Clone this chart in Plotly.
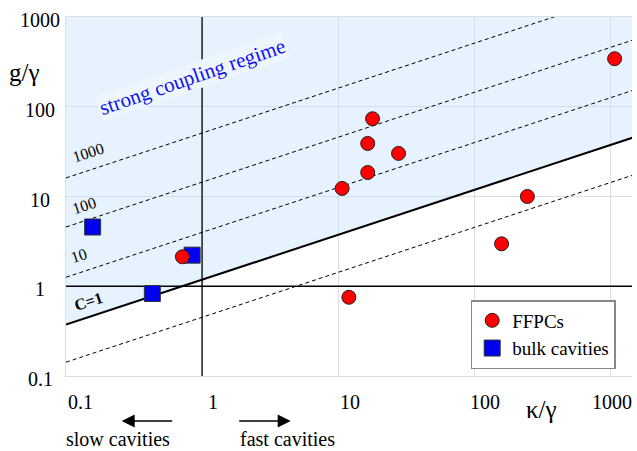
import math
import plotly.graph_objects as go

# ---------------- data ----------------
ffpc_kappa = [1077, 17.9, 16.5, 27.8, 16.5, 10.7, 246, 159, 12.0, 0.717]
ffpc_g = [343, 73.5, 39.0, 30.2, 18.5, 12.3, 10.0, 2.97, 0.754, 2.13]

bulk_kappa = [0.157, 0.845, 0.431]
bulk_g = [4.57, 2.22, 0.83]

# cooperativity reference lines: g/gamma at the left (kappa=0.1) and right (kappa=1500) ends
coop_labels = ["0.1", "1", "10", "100", "1000"]
coop_x_ends = [0.1, 1500]
coop_left = [0.1426, 0.374, 1.26, 4.57, 16.1]
coop_right = [17.5, 45.8, 154, 560, 1977]

x_ticks = [0.1, 1, 10, 100, 1000]
x_tick_text = ["0.1", "1", "10", "100", "1000"]
y_ticks = [0.1, 1, 10, 100, 1000]
y_tick_text = ["0.1", "1", "10", "100", "1000"]

# ---------------- layout helpers ----------------
W, H = 637, 451
L, R, T, B = 66, 5, 17, 75
PW, PH = W - L - R, H - T - B
FONT = "Liberation Serif"


def px(xp):
    return (xp - L) / PW


def py(yp):
    return (H - B - yp) / PH


fig = go.Figure()

# shaded strong-coupling region (above C=1 line)
fig.add_trace(go.Scatter(
    x=[coop_x_ends[0], coop_x_ends[1], coop_x_ends[1], coop_x_ends[0]],
    y=[coop_left[1], coop_right[1], 1000, 1000],
    fill="toself", fillcolor="rgba(192,222,250,0.40)",
    line=dict(width=0), mode="lines", hoverinfo="skip", showlegend=False))

# dashed cooperativity lines
for lab, yl, yr in zip(coop_labels, coop_left, coop_right):
    if lab == "1":
        continue
    fig.add_trace(go.Scatter(
        x=coop_x_ends, y=[yl, yr], mode="lines",
        line=dict(color="black", width=1, dash="4px,3px"),
        hoverinfo="skip", showlegend=False))

# C = 1 line
fig.add_trace(go.Scatter(
    x=coop_x_ends, y=[coop_left[1], coop_right[1]], mode="lines",
    line=dict(color="black", width=2), hoverinfo="skip", showlegend=False))

# x=1 and y=1 lines
fig.add_trace(go.Scatter(x=[1, 1], y=[0.1, 1000], mode="lines",
                         line=dict(color="black", width=1.3),
                         hoverinfo="skip", showlegend=False))
fig.add_trace(go.Scatter(x=[0.1, 1500], y=[1, 1], mode="lines",
                         line=dict(color="black", width=1.3),
                         hoverinfo="skip", showlegend=False))

# data points
fig.add_trace(go.Scatter(
    x=bulk_kappa, y=bulk_g, mode="markers", name="bulk cavities",
    legendrank=2,
    marker=dict(symbol="square", size=16, color="#0000f0",
                line=dict(color="#333333", width=1))))
fig.add_trace(go.Scatter(
    x=ffpc_kappa, y=ffpc_g, mode="markers", name="FFPCs",
    legendrank=1,
    marker=dict(symbol="circle", size=14, color="#ff0000",
                line=dict(color="#222222", width=1))))

ann = []


def text_ann(**kw):
    d = dict(showarrow=False, xanchor="center", yanchor="middle")
    d.update(kw)
    ann.append(d)


# tick labels
x_shift = [14, 11, 12, 11, 2]
for v, t, s in zip(x_ticks, x_tick_text, x_shift):
    text_ann(xref="x", yref="paper", x=math.log10(v), y=py(402), text=t, xshift=s,
             font=dict(family=FONT, size=20, color="black"))
for v, t in zip(y_ticks, y_tick_text):
    text_ann(xref="paper", yref="y", x=px(40), y=math.log10(v), text=t, yshift=-3,
             font=dict(family=FONT, size=20, color="black"))

# axis titles
text_ann(xref="paper", yref="paper", x=px(24), y=py(72), text="g/γ",
         font=dict(family=FONT, size=25, color="black"))
text_ann(xref="paper", yref="paper", x=px(541), y=py(410), text="κ/γ",
         font=dict(family=FONT, size=25, color="black"))

# region label
text_ann(xref="paper", yref="paper", x=px(192), y=py(77),
         text="strong coupling regime", textangle=-19, bgcolor="#edf5fd",
         font=dict(family=FONT, size=21, color="#1010ee"))

# cooperativity labels
for t, (xx, yy) in zip(["1000", "100", "10"], [(88, 152), (84, 205), (79, 256)]):
    text_ann(xref="paper", yref="paper", x=px(xx), y=py(yy), text=t, textangle=-18,
             font=dict(family=FONT, size=16, color="black"))
text_ann(xref="paper", yref="paper", x=px(88), y=py(301), text="<b>C=1</b>",
         textangle=-18, font=dict(family=FONT, size=16, color="black"))

# arrows and cavity labels
ann.append(dict(xref="paper", yref="paper", x=px(121.7), y=py(421), ax=52, ay=0,
                text="", showarrow=True, arrowhead=2, arrowsize=2,
                arrowwidth=1.3, arrowcolor="black"))
ann.append(dict(xref="paper", yref="paper", x=px(290.7), y=py(421), ax=-53, ay=0,
                text="", showarrow=True, arrowhead=2, arrowsize=2,
                arrowwidth=1.3, arrowcolor="black"))
text_ann(xref="paper", yref="paper", x=px(117.7), y=py(439), text="slow cavities",
         font=dict(family=FONT, size=20, color="black"))
text_ann(xref="paper", yref="paper", x=px(287), y=py(439), text="fast cavities",
         font=dict(family=FONT, size=20, color="black"))

fig.update_layout(
    width=W, height=H,
    margin=dict(l=L, r=R, t=T, b=B),
    paper_bgcolor="white", plot_bgcolor="white",
    font=dict(family=FONT, color="black"),
    xaxis=dict(type="log", range=[-1, 3.16], tickvals=x_ticks,
               showticklabels=False, ticks="", showgrid=True,
               gridcolor="#dedede", gridwidth=1, zeroline=False,
               showline=True, linecolor="#dedede", mirror=True),
    yaxis=dict(type="log", range=[-1, 3], tickvals=y_ticks,
               showticklabels=False, ticks="", showgrid=True,
               gridcolor="#dedede", gridwidth=1, zeroline=False,
               showline=True, linecolor="#dedede"),
    legend=dict(x=px(470.7), y=py(300), xanchor="left", yanchor="top",
                bgcolor="white", bordercolor="#888888", borderwidth=1.5,
                font=dict(family=FONT, size=19, color="black")),
    annotations=ann,
    showlegend=True,
)

fig.write_html("out.html", config={"displayModeBar": False},
               post_script="document.body.style.margin='0px';document.body.style.padding='0px';")
